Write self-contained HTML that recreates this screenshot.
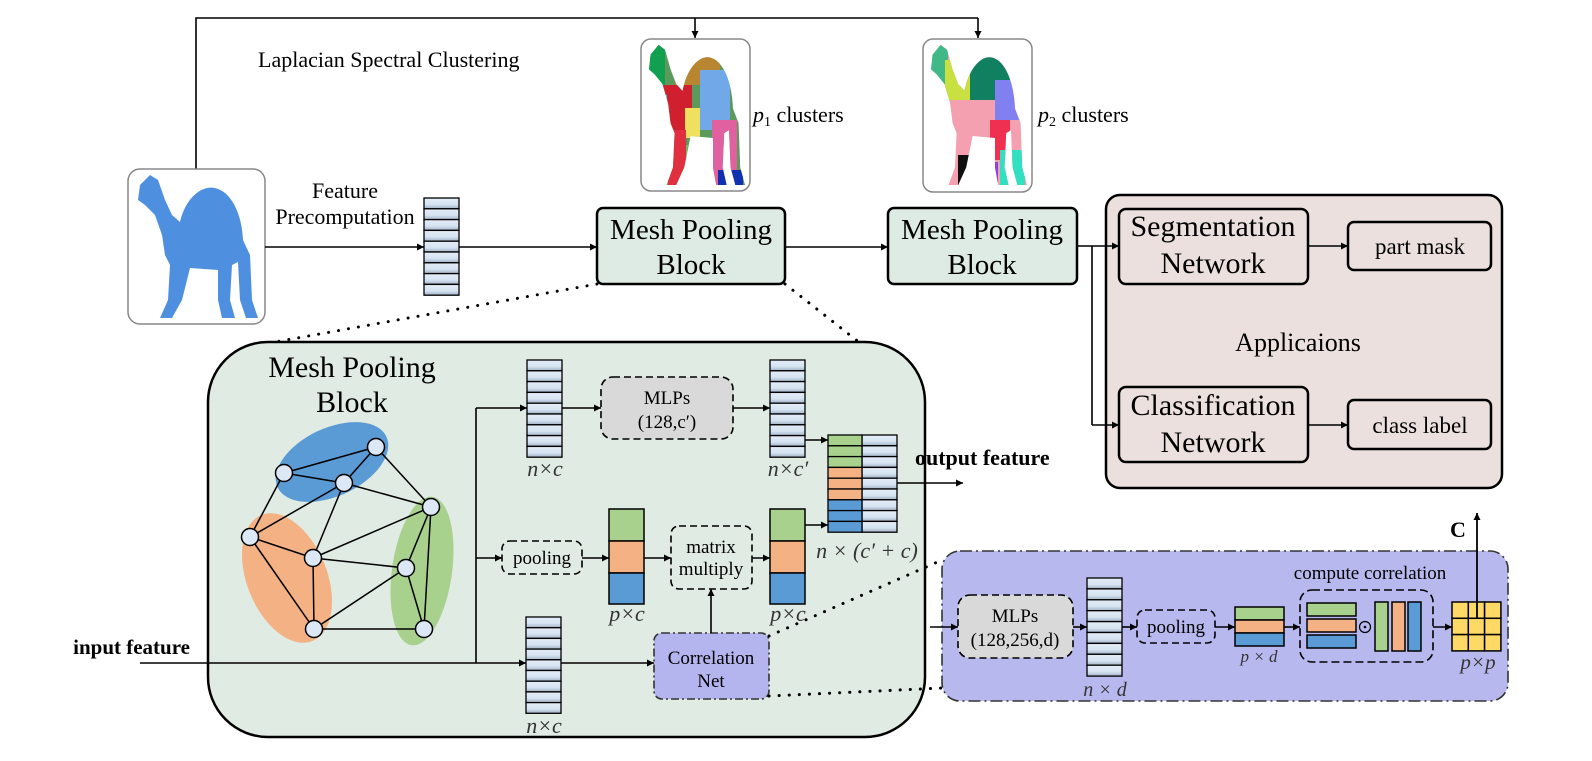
<!DOCTYPE html>
<html><head><meta charset="utf-8"><style>
html,body{margin:0;padding:0;background:#fff;}
svg{display:block;font-family:"Liberation Serif",serif;}
</style></head><body>
<svg width="1592" height="761" viewBox="0 0 1592 761" xmlns="http://www.w3.org/2000/svg">
<defs>
<marker id="ar" viewBox="0 0 10 10" refX="10" refY="5" markerWidth="7" markerHeight="7" orient="auto" markerUnits="userSpaceOnUse"><path d="M0,0 L10,5 L0,10 Z" fill="#000"/></marker>
<linearGradient id="cell" x1="0" y1="0" x2="0" y2="1"><stop offset="0" stop-color="#e3edf8"/><stop offset="0.6" stop-color="#d6e3f1"/><stop offset="1" stop-color="#9fb0c4"/></linearGradient>
<path id="camel" d="M140,185 L150,175 L158,180 L165,200 L172,215 L180,222 C185,200 200,185 215,188 C232,192 242,215 243,240 L250,255 L252,300 L258,318 L246,318 L240,300 L238,262 L232,265 L230,300 L235,318 L222,318 L218,300 L218,270 L190,268 L182,300 L172,318 L160,318 L168,300 L170,265 L165,255 L162,235 L155,215 L145,205 L138,200 Z"/>
<clipPath id="cc1"><use href="#camel" transform="translate(641,39) scale(0.8,0.98) translate(-128,-169)"/></clipPath>
<clipPath id="cc2"><use href="#camel" transform="translate(923,39) scale(0.8,0.98) translate(-128,-169)"/></clipPath>
</defs>

<!-- top connector -->
<path d="M196,169 L196,18 L978,18" fill="none" stroke="#000" stroke-width="1.6"/>
<line x1="695" y1="18" x2="695" y2="38" stroke="#000" stroke-width="1.6" marker-end="url(#ar)"/>
<line x1="978" y1="18" x2="978" y2="38" stroke="#000" stroke-width="1.6" marker-end="url(#ar)"/>
<text x="258" y="67" font-size="22">Laplacian Spectral Clustering</text>

<!-- camel -->
<rect x="128" y="169" width="137" height="155" rx="12" fill="#fff" stroke="#888" stroke-width="1.5"/>
<use href="#camel" fill="#4f8fe0"/>

<!-- cluster images -->
<rect x="641" y="39" width="109" height="152" rx="10" fill="#fff" stroke="#888" stroke-width="1.5"/>
<g clip-path="url(#cc1)">
<rect x="640" y="40" width="120" height="160" fill="#5b9a5b"/>
<rect x="640" y="40" width="25" height="60" fill="#10a050"/>
<rect x="675" y="40" width="45" height="45" fill="#b88530"/>
<rect x="700" y="70" width="30" height="60" fill="#70a8e8"/>
<rect x="662" y="85" width="30" height="45" fill="#d02030"/>
<rect x="685" y="108" width="15" height="30" fill="#f0e060"/>
<rect x="640" y="128" width="28" height="72" fill="#40c040"/>
<rect x="640" y="160" width="22" height="40" fill="#8040d0"/>
<rect x="668" y="130" width="18" height="70" fill="#e03040"/>
<rect x="686" y="145" width="18" height="55" fill="#60c060"/>
<rect x="712" y="120" width="25" height="80" fill="#e060a0"/>
<rect x="718" y="170" width="25" height="30" fill="#1030b0"/>
<rect x="645" y="95" width="22" height="10" fill="#30d0d0"/>
</g>
<text x="753" y="122" font-size="22"><tspan font-style="italic">p</tspan><tspan font-size="14" dy="4">1</tspan><tspan dy="-4"> clusters</tspan></text>

<rect x="923" y="39" width="109" height="153" rx="10" fill="#fff" stroke="#888" stroke-width="1.5"/>
<g clip-path="url(#cc2)">
<rect x="920" y="40" width="120" height="160" fill="#f4a0b0"/>
<rect x="920" y="40" width="28" height="60" fill="#40b888"/>
<rect x="960" y="40" width="50" height="60" fill="#108060"/>
<rect x="945" y="60" width="25" height="40" fill="#c8e040"/>
<rect x="995" y="80" width="30" height="40" fill="#8080f0"/>
<rect x="920" y="105" width="28" height="30" fill="#d8c8f0"/>
<rect x="920" y="135" width="28" height="30" fill="#a0b030"/>
<rect x="920" y="160" width="25" height="40" fill="#f03030"/>
<rect x="990" y="120" width="20" height="40" fill="#f03050"/>
<rect x="1000" y="150" width="25" height="50" fill="#30e0c0"/>
<rect x="958" y="155" width="15" height="45" fill="#101010"/>
<rect x="973" y="162" width="25" height="38" fill="#9040e0"/>
</g>
<text x="1038" y="122" font-size="22"><tspan font-style="italic">p</tspan><tspan font-size="14" dy="4">2</tspan><tspan dy="-4"> clusters</tspan></text>

<!-- feature precomputation -->
<text x="345" y="198" font-size="22" text-anchor="middle">Feature</text>
<text x="345" y="224" font-size="22" text-anchor="middle">Precomputation</text>
<line x1="265" y1="247" x2="424" y2="247" stroke="#000" stroke-width="1.6" marker-end="url(#ar)"/>
<g stroke="#000" stroke-width="1.3" fill="url(#cell)">
<rect x="424" y="198" width="35" height="10.8"/><rect x="424" y="208.8" width="35" height="10.8"/><rect x="424" y="219.6" width="35" height="10.8"/><rect x="424" y="230.4" width="35" height="10.8"/><rect x="424" y="241.2" width="35" height="10.8"/><rect x="424" y="252" width="35" height="10.8"/><rect x="424" y="262.8" width="35" height="10.8"/><rect x="424" y="273.6" width="35" height="10.8"/><rect x="424" y="284.4" width="35" height="10.8"/>
</g>
<line x1="459" y1="247" x2="597" y2="247" stroke="#000" stroke-width="1.6" marker-end="url(#ar)"/>

<!-- mesh pooling blocks -->
<rect x="597" y="208" width="188" height="76" rx="6" fill="#deebe4" stroke="#000" stroke-width="2.5"/>
<text x="691" y="239" font-size="29" text-anchor="middle">Mesh Pooling</text>
<text x="691" y="274" font-size="29" text-anchor="middle">Block</text>
<line x1="785" y1="247" x2="888" y2="247" stroke="#000" stroke-width="1.6" marker-end="url(#ar)"/>
<rect x="888" y="208" width="189" height="76" rx="6" fill="#deebe4" stroke="#000" stroke-width="2.5"/>
<text x="982" y="239" font-size="29" text-anchor="middle">Mesh Pooling</text>
<text x="982" y="274" font-size="29" text-anchor="middle">Block</text>

<!-- applications -->
<path d="M1077,246 L1092,246 M1092,246 L1092,425" fill="none" stroke="#000" stroke-width="1.6"/>
<rect x="1106" y="195" width="396" height="293" rx="14" fill="#ebe0dd" stroke="#000" stroke-width="2.5"/>
<line x1="1092" y1="246" x2="1119" y2="246" stroke="#000" stroke-width="1.6" marker-end="url(#ar)"/>
<line x1="1092" y1="425" x2="1119" y2="425" stroke="#000" stroke-width="1.6" marker-end="url(#ar)"/>
<rect x="1119" y="209" width="189" height="75" rx="7" fill="#ebe0dd" stroke="#000" stroke-width="2.5"/>
<text x="1213" y="236" font-size="30" text-anchor="middle">Segmentation</text>
<text x="1213" y="273" font-size="30" text-anchor="middle">Network</text>
<rect x="1348" y="222" width="143" height="48" rx="6" fill="#ebe0dd" stroke="#000" stroke-width="2.5"/>
<text x="1420" y="254" font-size="23" text-anchor="middle">part mask</text>
<line x1="1308" y1="246" x2="1348" y2="246" stroke="#000" stroke-width="1.6" marker-end="url(#ar)"/>
<text x="1298" y="351" font-size="26" text-anchor="middle">Applicaions</text>
<rect x="1119" y="387" width="189" height="75" rx="7" fill="#ebe0dd" stroke="#000" stroke-width="2.5"/>
<text x="1213" y="415" font-size="30" text-anchor="middle">Classification</text>
<text x="1213" y="452" font-size="30" text-anchor="middle">Network</text>
<rect x="1348" y="400" width="143" height="49" rx="6" fill="#ebe0dd" stroke="#000" stroke-width="2.5"/>
<text x="1420" y="433" font-size="23" text-anchor="middle">class label</text>
<line x1="1308" y1="425" x2="1348" y2="425" stroke="#000" stroke-width="1.6" marker-end="url(#ar)"/>

<!-- dotted zoom lines -->
<line x1="597" y1="284" x2="275" y2="342" stroke="#000" stroke-width="3" stroke-dasharray="0.1 10" stroke-linecap="round"/>
<line x1="785" y1="284" x2="860" y2="343" stroke="#000" stroke-width="3" stroke-dasharray="0.1 10" stroke-linecap="round"/>

<!-- big mesh pooling block -->
<rect x="208" y="342" width="717" height="395" rx="60" fill="#dfebe3" stroke="#000" stroke-width="2.5"/>
<text x="352" y="377" font-size="30" text-anchor="middle">Mesh Pooling</text>
<text x="352" y="412" font-size="30" text-anchor="middle">Block</text>

<ellipse cx="332" cy="462" rx="60" ry="34" transform="rotate(-25 332 462)" fill="#5b9bd5"/>
<ellipse cx="287" cy="578" rx="40" ry="68" transform="rotate(-22 287 578)" fill="#f4b183"/>
<ellipse cx="422" cy="571" rx="30" ry="75" transform="rotate(8 422 571)" fill="#a9d18e"/>
<g stroke="#000" stroke-width="1.5">
<line x1="284" y1="473" x2="376" y2="447"/><line x1="284" y1="473" x2="344" y2="483"/><line x1="344" y1="483" x2="376" y2="447"/>
<line x1="376" y1="447" x2="431" y2="507"/><line x1="344" y1="483" x2="431" y2="507"/>
<line x1="284" y1="473" x2="250" y2="537"/><line x1="344" y1="483" x2="250" y2="537"/><line x1="344" y1="483" x2="313" y2="558"/>
<line x1="250" y1="537" x2="313" y2="558"/><line x1="250" y1="537" x2="314" y2="629"/><line x1="313" y1="558" x2="314" y2="629"/>
<line x1="313" y1="558" x2="431" y2="507"/><line x1="313" y1="558" x2="406" y2="568"/><line x1="431" y1="507" x2="406" y2="568"/>
<line x1="431" y1="507" x2="424" y2="629"/><line x1="406" y1="568" x2="424" y2="629"/><line x1="406" y1="568" x2="314" y2="629"/>
<line x1="314" y1="629" x2="424" y2="629"/>
</g>
<g fill="#dce8f5" stroke="#000" stroke-width="1.5">
<circle cx="376" cy="447" r="8.5"/><circle cx="284" cy="473" r="8.5"/><circle cx="344" cy="483" r="8.5"/><circle cx="431" cy="507" r="8.5"/><circle cx="250" cy="537" r="8.5"/><circle cx="313" cy="558" r="8.5"/><circle cx="406" cy="568" r="8.5"/><circle cx="314" cy="629" r="8.5"/><circle cx="424" cy="629" r="8.5"/>
</g>

<!-- input -->
<text x="190" y="654" font-size="21" font-weight="bold" text-anchor="end">input feature</text>
<line x1="140" y1="663" x2="526" y2="663" stroke="#000" stroke-width="1.6" marker-end="url(#ar)"/>
<path d="M476,663 L476,408" fill="none" stroke="#000" stroke-width="1.6"/>
<line x1="476" y1="408" x2="527" y2="408" stroke="#000" stroke-width="1.6" marker-end="url(#ar)"/>
<line x1="476" y1="558" x2="502" y2="558" stroke="#000" stroke-width="1.6" marker-end="url(#ar)"/>

<!-- columns -->
<g stroke="#000" stroke-width="1.3" fill="url(#cell)">
<rect x="527" y="360" width="35" height="10.8"/><rect x="527" y="370.8" width="35" height="10.8"/><rect x="527" y="381.6" width="35" height="10.8"/><rect x="527" y="392.4" width="35" height="10.8"/><rect x="527" y="403.2" width="35" height="10.8"/><rect x="527" y="414" width="35" height="10.8"/><rect x="527" y="424.8" width="35" height="10.8"/><rect x="527" y="435.6" width="35" height="10.8"/><rect x="527" y="446.4" width="35" height="10.8"/>
<rect x="770" y="360" width="35" height="10.8"/><rect x="770" y="370.8" width="35" height="10.8"/><rect x="770" y="381.6" width="35" height="10.8"/><rect x="770" y="392.4" width="35" height="10.8"/><rect x="770" y="403.2" width="35" height="10.8"/><rect x="770" y="414" width="35" height="10.8"/><rect x="770" y="424.8" width="35" height="10.8"/><rect x="770" y="435.6" width="35" height="10.8"/><rect x="770" y="446.4" width="35" height="10.8"/>
<rect x="526" y="617" width="35" height="10.7"/><rect x="526" y="627.7" width="35" height="10.7"/><rect x="526" y="638.4" width="35" height="10.7"/><rect x="526" y="649.1" width="35" height="10.7"/><rect x="526" y="659.8" width="35" height="10.7"/><rect x="526" y="670.5" width="35" height="10.7"/><rect x="526" y="681.2" width="35" height="10.7"/><rect x="526" y="691.9" width="35" height="10.7"/><rect x="526" y="702.6" width="35" height="10.7"/>
<rect x="862" y="435" width="35" height="10.8"/><rect x="862" y="445.8" width="35" height="10.8"/><rect x="862" y="456.6" width="35" height="10.8"/><rect x="862" y="467.4" width="35" height="10.8"/><rect x="862" y="478.2" width="35" height="10.8"/><rect x="862" y="489" width="35" height="10.8"/><rect x="862" y="499.8" width="35" height="10.8"/><rect x="862" y="510.6" width="35" height="10.8"/><rect x="862" y="521.4" width="35" height="10.8"/>
</g>
<g stroke="#000" stroke-width="1.3">
<rect x="828" y="435" width="34" height="10.8" fill="#a9d18e"/><rect x="828" y="445.8" width="34" height="10.8" fill="#a9d18e"/><rect x="828" y="456.6" width="34" height="10.8" fill="#a9d18e"/>
<rect x="828" y="467.4" width="34" height="10.8" fill="#f4b183"/><rect x="828" y="478.2" width="34" height="10.8" fill="#f4b183"/><rect x="828" y="489" width="34" height="10.8" fill="#f4b183"/>
<rect x="828" y="499.8" width="34" height="10.8" fill="#5b9bd5"/><rect x="828" y="510.6" width="34" height="10.8" fill="#5b9bd5"/><rect x="828" y="521.4" width="34" height="10.8" fill="#5b9bd5"/>
</g>
<g font-size="22" font-style="italic" text-anchor="middle" fill="#333">
<text x="545" y="476">n×c</text>
<text x="788" y="476">n×c′</text>
<text x="867" y="558">n × (c′ + c)</text>
<text x="627" y="621">p×c</text>
<text x="788" y="621">p×c</text>
<text x="544" y="733">n×c</text>
</g>

<!-- MLPs -->
<line x1="562" y1="408" x2="601" y2="408" stroke="#000" stroke-width="1.6" marker-end="url(#ar)"/>
<rect x="601" y="377" width="132" height="62" rx="12" fill="#d9d9d9" stroke="#000" stroke-width="1.6" stroke-dasharray="7 4"/>
<text x="667" y="404" font-size="19" text-anchor="middle">MLPs</text>
<text x="667" y="428" font-size="19" text-anchor="middle">(128,c′)</text>
<line x1="733" y1="408" x2="770" y2="408" stroke="#000" stroke-width="1.6" marker-end="url(#ar)"/>
<line x1="805" y1="440" x2="828" y2="440" stroke="#000" stroke-width="1.6" marker-end="url(#ar)"/>
<line x1="897" y1="483" x2="963" y2="483" stroke="#000" stroke-width="1.6" marker-end="url(#ar)"/>
<text x="915" y="465" font-size="22" font-weight="bold">output feature</text>

<!-- pooling row -->
<rect x="502" y="541" width="80" height="33" rx="8" fill="none" stroke="#000" stroke-width="1.6" stroke-dasharray="7 4"/>
<text x="542" y="564" font-size="19" text-anchor="middle">pooling</text>
<line x1="582" y1="558" x2="609" y2="558" stroke="#000" stroke-width="1.6" marker-end="url(#ar)"/>
<g stroke="#000" stroke-width="1.5">
<rect x="609" y="509" width="35" height="32" fill="#a9d18e"/><rect x="609" y="541" width="35" height="32" fill="#f4b183"/><rect x="609" y="573" width="35" height="31" fill="#5b9bd5"/>
<rect x="770" y="509" width="35" height="32" fill="#a9d18e"/><rect x="770" y="541" width="35" height="32" fill="#f4b183"/><rect x="770" y="573" width="35" height="31" fill="#5b9bd5"/>
</g>
<line x1="644" y1="558" x2="671" y2="558" stroke="#000" stroke-width="1.6" marker-end="url(#ar)"/>
<rect x="671" y="526" width="81" height="63" rx="8" fill="none" stroke="#000" stroke-width="1.6" stroke-dasharray="7 4"/>
<text x="711" y="553" font-size="19" text-anchor="middle">matrix</text>
<text x="711" y="575" font-size="19" text-anchor="middle">multiply</text>
<line x1="752" y1="558" x2="770" y2="558" stroke="#000" stroke-width="1.6" marker-end="url(#ar)"/>
<line x1="805" y1="525" x2="828" y2="525" stroke="#000" stroke-width="1.6" marker-end="url(#ar)"/>

<!-- correlation net -->
<line x1="561" y1="663" x2="654" y2="663" stroke="#000" stroke-width="1.6" marker-end="url(#ar)"/>
<rect x="654" y="633" width="115" height="66" rx="8" fill="#b4b5ee" stroke="#333" stroke-width="1.6" stroke-dasharray="8 3 2 3"/>
<text x="711" y="664" font-size="19" text-anchor="middle">Correlation</text>
<text x="711" y="687" font-size="19" text-anchor="middle">Net</text>
<line x1="711" y1="633" x2="711" y2="589" stroke="#000" stroke-width="1.6" marker-end="url(#ar)"/>
<line x1="769" y1="636" x2="942" y2="560" stroke="#000" stroke-width="3" stroke-dasharray="0.1 10" stroke-linecap="round"/>
<line x1="769" y1="696" x2="942" y2="688" stroke="#000" stroke-width="3" stroke-dasharray="0.1 10" stroke-linecap="round"/>

<!-- correlation detail -->
<rect x="942" y="551" width="566" height="150" rx="18" fill="#b7b8ee" stroke="#333" stroke-width="1.6" stroke-dasharray="12 4 2 4"/>
<line x1="930" y1="627" x2="958" y2="627" stroke="#000" stroke-width="1.6" marker-end="url(#ar)"/>
<rect x="958" y="595" width="115" height="63" rx="12" fill="#d9d9d9" stroke="#000" stroke-width="1.6" stroke-dasharray="7 4"/>
<text x="1015" y="622" font-size="19" text-anchor="middle">MLPs</text>
<text x="1015" y="646" font-size="19" text-anchor="middle">(128,256,d)</text>
<line x1="1073" y1="627" x2="1087" y2="627" stroke="#000" stroke-width="1.6" marker-end="url(#ar)"/>
<g stroke="#000" stroke-width="1.3" fill="url(#cell)">
<rect x="1087" y="578" width="35" height="10.9"/><rect x="1087" y="588.9" width="35" height="10.9"/><rect x="1087" y="599.8" width="35" height="10.9"/><rect x="1087" y="610.7" width="35" height="10.9"/><rect x="1087" y="621.6" width="35" height="10.9"/><rect x="1087" y="632.5" width="35" height="10.9"/><rect x="1087" y="643.4" width="35" height="10.9"/><rect x="1087" y="654.3" width="35" height="10.9"/><rect x="1087" y="665.2" width="35" height="10.9"/>
</g>
<text x="1105" y="696" font-size="20" font-style="italic" text-anchor="middle" fill="#333">n × d</text>
<line x1="1122" y1="627" x2="1137" y2="627" stroke="#000" stroke-width="1.6" marker-end="url(#ar)"/>
<rect x="1137" y="610" width="78" height="33" rx="8" fill="none" stroke="#000" stroke-width="1.6" stroke-dasharray="7 4"/>
<text x="1176" y="633" font-size="19" text-anchor="middle">pooling</text>
<line x1="1215" y1="627" x2="1235" y2="627" stroke="#000" stroke-width="1.6" marker-end="url(#ar)"/>
<g stroke="#000" stroke-width="1.5">
<rect x="1235" y="607" width="49" height="13" fill="#a9d18e"/><rect x="1235" y="620" width="49" height="13" fill="#f4b183"/><rect x="1235" y="633" width="49" height="13" fill="#5b9bd5"/>
</g>
<text x="1259" y="662" font-size="17" font-style="italic" text-anchor="middle" fill="#333">p × d</text>
<line x1="1284" y1="627" x2="1300" y2="627" stroke="#000" stroke-width="1.6" marker-end="url(#ar)"/>
<text x="1370" y="579" font-size="19" text-anchor="middle">compute correlation</text>
<rect x="1300" y="590" width="133" height="72" rx="12" fill="none" stroke="#000" stroke-width="1.6" stroke-dasharray="8 4"/>
<g stroke="#000" stroke-width="1.5">
<rect x="1307" y="603" width="49" height="13" fill="#a9d18e"/><rect x="1307" y="619" width="49" height="13" fill="#f4b183"/><rect x="1307" y="635" width="49" height="13" fill="#5b9bd5"/>
<rect x="1375" y="602" width="13" height="49" fill="#a9d18e"/><rect x="1392" y="602" width="13" height="49" fill="#f4b183"/><rect x="1408" y="602" width="13" height="49" fill="#5b9bd5"/>
</g>
<circle cx="1365" cy="627" r="5.5" fill="none" stroke="#000" stroke-width="1.2"/><circle cx="1365" cy="627" r="1.3" fill="#000"/>
<line x1="1433" y1="627" x2="1452" y2="627" stroke="#000" stroke-width="1.6" marker-end="url(#ar)"/>
<g stroke="#000" stroke-width="1.5" fill="#ffd966">
<rect x="1452" y="602" width="16.3" height="16.3"/><rect x="1468.3" y="602" width="16.3" height="16.3"/><rect x="1484.6" y="602" width="16.3" height="16.3"/>
<rect x="1452" y="618.3" width="16.3" height="16.3"/><rect x="1468.3" y="618.3" width="16.3" height="16.3"/><rect x="1484.6" y="618.3" width="16.3" height="16.3"/>
<rect x="1452" y="634.6" width="16.3" height="16.3"/><rect x="1468.3" y="634.6" width="16.3" height="16.3"/><rect x="1484.6" y="634.6" width="16.3" height="16.3"/>
</g>
<text x="1478" y="669" font-size="21" font-style="italic" text-anchor="middle" fill="#333">p×p</text>
<line x1="1477" y1="618" x2="1477" y2="513" stroke="#000" stroke-width="1.8" marker-end="url(#ar)"/>
<text x="1458" y="537" font-size="22" font-weight="bold" text-anchor="middle">C</text>
</svg>
</body></html>
